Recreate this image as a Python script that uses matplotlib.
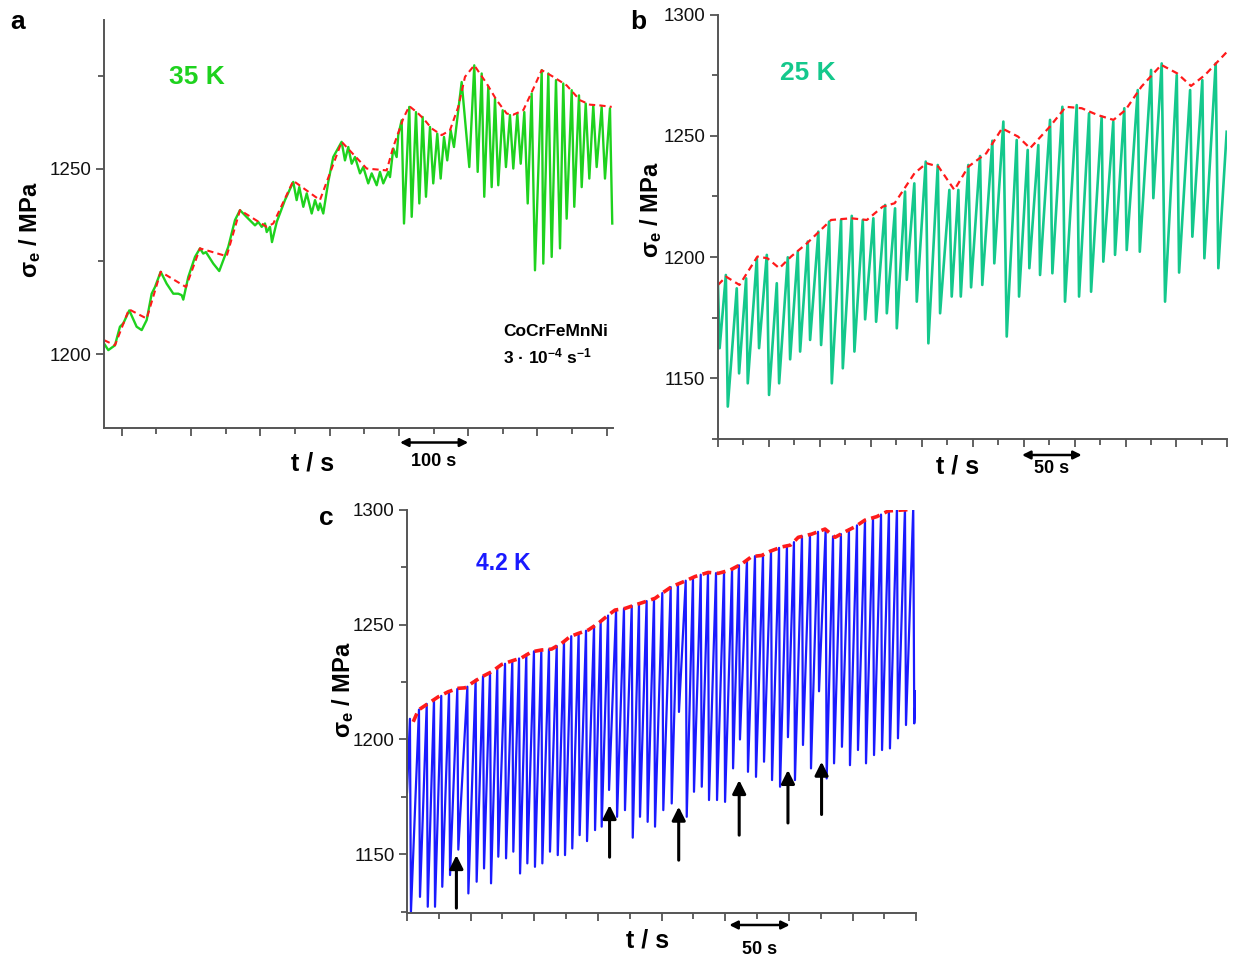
import numpy as np
import matplotlib
matplotlib.use("Agg")
import matplotlib.pyplot as plt
from matplotlib.ticker import MultipleLocator
from matplotlib import transforms

plt.rcParams['font.family'] = ['Liberation Sans', 'DejaVu Sans']
plt.rcParams['mathtext.fontset'] = 'custom'
plt.rcParams['mathtext.rm'] = 'Liberation Sans'
plt.rcParams['mathtext.bf'] = 'Liberation Sans:bold'
plt.rcParams['mathtext.it'] = 'Liberation Sans:italic'

# ---------------- data: panel a (35 K) ----------------
a_t = [-25.5, -19.3, -9.7, -2.5, 2.3, 11.0, 21.6, 28.9, 36.1, 43.3, 48.1, 56.3,
       64.9, 74.5, 81.7, 86.6, 88.9, 96.1, 105.8, 113.0, 117.7, 121.6, 132.2,
       140.8, 153.8, 163.5, 170.7, 182.7, 192.4, 197.2, 202.1, 206.8, 209.3,
       214.0, 216.9, 223.7, 235.6, 247.6, 252.5, 256.3, 262.1, 267.0, 274.2,
       279.0, 283.7, 286.2, 290.9, 298.1, 305.3, 317.4, 322.2, 327.0, 331.9,
       336.7, 343.9, 348.6, 355.8, 360.8, 368.0, 372.7, 377.5, 384.7, 387.2,
       391.9, 396.8, 399.1, 404.0, 407.4, 415.0, 418.5, 424.7, 429.5, 434.3,
       439.1, 444.9, 449.6, 455.4, 460.3, 465.1, 469.8, 474.7, 479.5, 485.7,
       490.6, 501.6, 508.8, 513.7, 519.5, 523.2, 529.0, 533.9, 538.7, 543.4,
       549.8, 554.5, 560.3, 565.1, 570.9, 575.8, 581.0, 585.9, 591.6, 596.4,
       606.1, 608.4, 615.6, 620.5, 626.7, 632.5, 637.2, 642.1, 649.4, 653.1,
       659.9, 663.8, 669.6, 674.8, 680.5, 685.4, 692.6, 697.4, 704.6, 707.9]
a_s = [1202.9, 1201.1, 1202.4, 1207.4, 1208.3, 1211.8, 1207.4, 1206.5, 1209.2,
       1216.3, 1218.1, 1222.2, 1219.0, 1216.3, 1216.3, 1215.9, 1214.7, 1220.8,
       1226.2, 1228.5, 1227.1, 1227.5, 1224.4, 1222.4, 1228.9, 1236.1, 1238.8,
       1236.5, 1234.7, 1235.6, 1234.3, 1235.2, 1232.9, 1234.3, 1230.2, 1235.6,
       1241.5, 1246.4, 1241.5, 1245.0, 1239.7, 1243.3, 1237.9, 1241.5, 1238.8,
       1240.6, 1237.9, 1246.4, 1253.1, 1257.2, 1252.2, 1255.8, 1251.3, 1253.1,
       1248.7, 1250.4, 1246.0, 1248.7, 1245.5, 1249.1, 1246.0, 1249.1, 1247.7,
       1255.4, 1253.1, 1259.0, 1263.0, 1235.2, 1266.6, 1237.0, 1265.2, 1240.6,
       1263.9, 1242.4, 1261.2, 1246.0, 1259.4, 1247.3, 1258.5, 1252.2, 1260.3,
       1255.8, 1265.7, 1273.3, 1250.4, 1277.8, 1249.1, 1275.6, 1242.4, 1272.0,
       1245.0, 1268.8, 1245.5, 1265.7, 1250.4, 1264.4, 1250.0, 1264.8, 1251.3,
       1265.2, 1240.6, 1270.2, 1222.6, 1276.5, 1224.4, 1275.6, 1226.2, 1273.8,
       1228.5, 1272.9, 1236.5, 1271.1, 1239.7, 1269.7, 1245.0, 1267.5, 1247.3,
       1267.0, 1250.4, 1266.6, 1247.3, 1266.2, 1235.2]
a_env_t = [-25.5, -9.7, 10.5, 36.1, 56.3, 92.8, 113.0, 151.5, 170.7, 209.2,
           218.8, 247.6, 286.1, 317.4, 353.5, 382.4, 391.9, 406.4, 415.0, 425.7,
           435.2, 447.3, 461.8, 473.7, 485.7, 495.4, 508.8, 526.7, 541.1, 555.6,
           565.1, 579.5, 594.0, 606.1, 622.8, 642.1, 661.3, 675.8, 690.2, 707.1]
a_env_s = [1203.8, 1202.4, 1212.1, 1209.6, 1222.2, 1218.1, 1228.5, 1226.4,
           1238.8, 1234.3, 1235.2, 1246.7, 1241.5, 1257.2, 1250.0, 1249.5,
           1255.8, 1263.5, 1266.8, 1265.2, 1263.5, 1260.8, 1259.0, 1260.3,
           1266.6, 1274.7, 1277.8, 1272.9, 1268.4, 1264.8, 1264.5, 1265.7,
           1271.5, 1276.5, 1274.7, 1272.4, 1268.4, 1267.2, 1267.0, 1266.6]

# ---------------- data: panel b (25 K) ----------------
b_t = [0.0, 1.6, 7.7, 9.6, 18.4, 20.7, 27.6, 29.2, 38.1, 40.3, 47.9, 50.1, 57.7,
       60.0, 68.5, 70.8, 78.3, 80.6, 88.1, 90.4, 98.5, 101.2, 109.0, 111.7,
       120.8, 122.5, 131.3, 133.9, 142.1, 144.4, 152.5, 155.2, 164.0, 165.7,
       173.8, 175.5, 183.6, 185.3, 192.7, 195.1, 203.9, 206.5, 215.7, 218.0,
       227.1, 229.4, 235.9, 238.3, 245.7, 248.4, 257.2, 259.4, 269.3, 271.2,
       280.1, 283.4, 293.2, 295.5, 304.0, 305.6, 314.4, 316.1, 325.9, 328.2,
       338.0, 340.6, 352.1, 354.4, 364.2, 366.2, 376.6, 378.2, 388.0, 389.7,
       398.8, 401.2, 412.0, 414.0, 425.1, 427.3, 435.5, 438.8, 450.3, 452.6,
       463.4, 465.6, 475.4, 477.4, 488.5, 491.1, 499.3]
b_s = [1188.0, 1162.4, 1192.6, 1138.3, 1187.1, 1152.0, 1191.2, 1147.9, 1199.5,
       1162.4, 1200.9, 1143.1, 1189.2, 1147.9, 1199.9, 1157.8, 1202.2, 1161.0,
       1206.4, 1165.8, 1210.5, 1163.7, 1214.6, 1147.9, 1215.3, 1154.1, 1217.0,
       1161.0, 1215.3, 1174.3, 1216.0, 1173.3, 1221.5, 1176.8, 1220.1, 1170.6,
       1227.0, 1190.6, 1230.4, 1181.6, 1239.4, 1164.4, 1238.0, 1176.8, 1227.7,
       1183.7, 1227.7, 1183.7, 1238.0, 1187.5, 1241.7, 1188.5, 1248.0, 1197.4,
       1255.9, 1167.2, 1248.3, 1183.7, 1244.2, 1195.4, 1246.2, 1192.6, 1256.6,
       1193.3, 1262.0, 1181.6, 1262.7, 1183.7, 1259.3, 1185.7, 1257.9, 1198.1,
       1255.9, 1200.9, 1261.4, 1202.9, 1268.9, 1202.2, 1277.2, 1224.3, 1279.9,
       1181.6, 1275.1, 1193.6, 1268.9, 1208.4, 1273.0, 1199.5, 1279.9, 1195.4,
       1251.7]
b_env_t = [0.0, 7.9, 21.1, 38.7, 48.5, 60.2, 71.7, 87.4, 111.0, 130.6, 146.1,
           161.7, 173.4, 192.9, 204.7, 216.4, 232.0, 245.7, 263.3, 278.8, 294.5,
           306.3, 325.7, 341.4, 357.0, 372.6, 388.2, 400.0, 415.6, 435.1, 450.7,
           464.3, 478.0, 499.6]
b_env_s = [1188.5, 1191.9, 1188.5, 1200.2, 1199.5, 1195.4, 1200.2, 1205.7,
           1215.3, 1216.0, 1215.3, 1220.8, 1222.2, 1234.6, 1238.7, 1237.3,
           1227.7, 1237.3, 1242.8, 1253.1, 1249.7, 1244.9, 1253.8, 1262.0,
           1261.4, 1258.6, 1256.6, 1260.7, 1270.3, 1279.3, 1275.8, 1270.6,
           1275.1, 1284.7]

# ---------------- data: panel c (4.2 K) ----------------
c_start = (0.0, 1177.0)
c_end = (399.7, 1221.0)
c_valley_t = [3.1, 10.2, 16.3, 22.0, 27.7, 33.8, 40.3, 48.2, 54.7, 60.5,
              66.0, 71.7, 77.8, 83.5, 88.8, 94.5, 100.5, 106.3, 112.3, 118.4,
              124.1, 129.8, 135.6, 141.4, 147.7, 152.9, 158.7, 165.0, 171.2, 177.3,
              183.0, 189.0, 194.8, 201.3, 207.9, 213.6, 219.7, 225.4, 231.5, 237.2,
              243.5, 249.8, 256.1, 261.5, 267.8, 274.1, 280.4, 286.7, 293.0, 299.2,
              304.7, 311.0, 317.3, 323.6, 329.6, 335.4, 341.6, 347.9, 354.2, 360.5,
              366.8, 373.1, 379.3, 385.6, 391.9, 398.4]
c_peak_s = [1209.0, 1213.0, 1215.5, 1217.5, 1219.0, 1220.8, 1222.0, 1223.0, 1226.0, 1227.5,
            1229.2, 1231.2, 1233.0, 1234.2, 1235.3, 1237.0, 1238.4, 1239.0, 1239.3, 1240.7,
            1242.7, 1245.0, 1246.3, 1247.4, 1249.4, 1251.5, 1254.0, 1256.5, 1257.0, 1258.2,
            1259.2, 1260.3, 1261.3, 1263.8, 1266.4, 1267.7, 1269.2, 1270.6, 1271.8, 1272.8,
            1272.5, 1273.0, 1274.3, 1275.9, 1278.2, 1279.9, 1280.5, 1282.2, 1283.5, 1284.4,
            1286.0, 1288.5, 1289.3, 1290.5, 1291.5, 1288.5, 1289.5, 1291.5, 1293.3, 1295.6,
            1296.6, 1298.0, 1299.7, 1301.0, 1301.0, 1301.0]
c_valley_s = [1124.9, 1131.4, 1127.1, 1127.1, 1135.8, 1140.9, 1152.0, 1132.9, 1138.0, 1143.8,
              1137.3, 1148.9, 1148.2, 1151.1, 1141.6, 1146.0, 1144.5, 1146.0, 1151.1, 1149.6,
              1149.6, 1152.5, 1158.3, 1155.7, 1160.5, 1162.0, 1178.0, 1166.3, 1169.2, 1157.2,
              1166.3, 1164.1, 1162.0, 1169.2, 1172.1, 1212.0, 1166.3, 1177.2, 1179.4, 1173.6,
              1173.6, 1172.8, 1187.4, 1200.0, 1185.9, 1183.7, 1190.3, 1182.3, 1179.4, 1201.0,
              1182.3, 1197.6, 1187.4, 1221.0, 1183.0, 1189.6, 1196.8, 1188.8, 1195.4, 1189.6,
              1193.2, 1195.4, 1196.1, 1200.5, 1206.3, 1207.0]
c_env_t = [4.9, 8.9, 16.7, 24.6, 32.4, 40.3, 45.6, 50.8, 58.7, 66.5, 74.4, 82.2,
           90.1, 97.9, 105.8, 113.6, 121.5, 128.0, 134.5, 142.4, 150.2, 158.1,
           163.4, 171.2, 179.1, 186.9, 194.8, 201.3, 207.9, 218.3, 226.2, 236.6,
           244.5, 253.7, 262.9, 270.7, 278.6, 285.1, 294.3, 301.2, 307.3, 317.9,
           328.3, 336.2, 344.0, 351.9, 359.7, 368.9, 378.0, 395.1]
c_env_s = [1207.7, 1212.8, 1215.7, 1218.6, 1220.8, 1222.3, 1222.5, 1224.5, 1227.3,
           1229.5, 1232.7, 1234.2, 1235.6, 1238.2, 1239.0, 1239.4, 1241.9, 1244.8,
           1246.2, 1247.7, 1250.6, 1254.2, 1256.4, 1257.1, 1258.6, 1260.0, 1261.5,
           1264.1, 1266.6, 1269.0, 1271.0, 1272.8, 1272.4, 1273.8, 1276.5, 1279.7,
           1280.2, 1282.0, 1283.9, 1284.7, 1288.1, 1289.5, 1291.7, 1288.1, 1290.5,
           1292.7, 1295.6, 1297.1, 1299.6, 1300.2]
# marked serrations (arrow tip and tail stress)
c_arrow_t = [38.8, 159.1, 213.4, 260.9, 299.2, 325.6]
c_arrow_tip = [1149.6, 1171.4, 1170.7, 1182.3, 1186.7, 1190.3]
c_arrow_tail = [1126.5, 1148.7, 1147.4, 1158.3, 1163.6, 1167.3]

# ---------------- styling ----------------
GREEN_A = '#1ed21e'
GREEN_B = '#14c88c'
BLUE_C = '#1a1aff'
RED = '#ff1a1a'
AXIS = '#555555'
DROP_TIME = 0.8  # duration of a stress drop in panel c

W, H = 1244, 966
fig = plt.figure(figsize=(W / 100, H / 100), dpi=100)
fig.patch.set_facecolor('white')


def px_rect(l, t, r, b):
    return [l / W, 1 - b / H, (r - l) / W, (b - t) / H]


def style_axes(ax, xlim, ylim, xmaj, xmin):
    ax.set_xlim(*xlim)
    ax.set_ylim(*ylim)
    for side in ('top', 'right'):
        ax.spines[side].set_visible(False)
    for side in ('left', 'bottom'):
        ax.spines[side].set_color(AXIS)
        ax.spines[side].set_linewidth(1.4)
    ax.xaxis.set_major_locator(MultipleLocator(xmaj))
    ax.xaxis.set_minor_locator(MultipleLocator(xmin))
    ax.yaxis.set_major_locator(MultipleLocator(50))
    ax.yaxis.set_minor_locator(MultipleLocator(25))
    ax.tick_params(which='both', direction='out', color=AXIS, width=1.3)
    ax.tick_params(which='major', length=6)
    ax.tick_params(which='minor', length=4)
    ax.tick_params(axis='x', labelbottom=False)
    ax.tick_params(axis='y', labelsize=13.5, pad=3, labelcolor='#111111')
    ax.set_facecolor('none')


def scale_arrow(ax, t0, t1, y_off_px, label, label_off_px):
    trans = transforms.blended_transform_factory(ax.transData, ax.transAxes)
    h = ax.get_position().height * H
    ax.annotate('', xy=(t0, -y_off_px / h), xytext=(t1, -y_off_px / h),
                xycoords=trans, textcoords=trans,
                arrowprops=dict(arrowstyle='<|-|>', color='black', lw=1.8,
                                mutation_scale=12, shrinkA=0, shrinkB=0),
                annotation_clip=False)
    ax.text((t0 + t1) / 2, -label_off_px / h, label, transform=trans,
            ha='center', va='center', fontsize=13, fontweight='bold')


def fig_text(x, y, s, **kw):
    fig.text(x / W, 1 - y / H, s, **kw)


# ---- panel a ----
ax_a = fig.add_axes(px_rect(104, 20, 613.5, 428.5))
style_axes(ax_a, (-25.5, 709.7), (1180, 1290), 100, 50)
ax_a.plot(a_t, a_s, color=GREEN_A, lw=1.7, solid_joinstyle='round')
ax_a.plot(a_env_t, a_env_s, color=RED, lw=1.5, dashes=(3, 2))
scale_arrow(ax_a, 401.6, 500.1, 14, '100 s', 33)

# ---- panel b ----
ax_b = fig.add_axes(px_rect(718, 14.7, 1227.4, 439.3))
style_axes(ax_b, (0, 500), (1124.8, 1300), 50, 25)
ax_b.plot(b_t, b_s, color=GREEN_B, lw=1.9, solid_joinstyle='round')
ax_b.plot(b_env_t, b_env_s, color=RED, lw=1.6, dashes=(3, 2))
scale_arrow(ax_b, 298.4, 357.0, 15.7, '50 s', 29)

# ---- panel c ----
ax_c = fig.add_axes(px_rect(407, 510, 916.3, 912.7))
style_axes(ax_c, (0, 400), (1124.5, 1300), 50, 25)
c_t = [c_start[0]]
c_s = [c_start[1]]
for vt, ps, vs in zip(c_valley_t, c_peak_s, c_valley_s):
    c_t += [vt - DROP_TIME, vt]
    c_s += [ps, vs]
c_t.append(c_end[0])
c_s.append(c_end[1])
ax_c.plot(c_t, c_s, color=BLUE_C, lw=1.6)
ax_c.plot(c_env_t, c_env_s, color=RED, lw=2.6, dashes=(2.5, 1.5))
for t, tip, tail in zip(c_arrow_t, c_arrow_tip, c_arrow_tail):
    ax_c.annotate('', xy=(t, tip), xytext=(t, tail),
                  arrowprops=dict(arrowstyle='-|>', color='black', lw=2.2,
                                  mutation_scale=20, shrinkA=0, shrinkB=0))
scale_arrow(ax_c, 253.1, 300.6, 12.3, '50 s', 37)

# ---- text ----
fig_text(18, 22, 'a', fontsize=19, fontweight='bold', ha='center', va='center')
fig_text(638, 22, 'b', fontsize=19, fontweight='bold', ha='center', va='center')
fig_text(326, 518, 'c', fontsize=19, fontweight='bold', ha='center', va='center')

fig_text(197, 77, '35 K', fontsize=19, fontweight='bold', color=GREEN_A,
         ha='center', va='center')
fig_text(808, 73, '25 K', fontsize=19, fontweight='bold', color=GREEN_B,
         ha='center', va='center')
fig_text(503, 563, '4.2 K', fontsize=16.5, fontweight='bold', color=BLUE_C,
         ha='center', va='center')

fig_text(503, 332, 'CoCrFeMnNi', fontsize=12.5, fontweight='bold',
         ha='left', va='center')
fig_text(503, 356, r'3 · 10$^{\mathbf{-4}}$ s$^{\mathbf{-1}}$', fontsize=12.5,
         fontweight='bold', ha='left', va='center')

ylab = r'σ$_{\mathbf{e}}$ / MPa'
fig_text(30, 230, ylab, fontsize=17, fontweight='bold', rotation=90,
         ha='center', va='center')
fig_text(651, 210, ylab, fontsize=17, fontweight='bold', rotation=90,
         ha='center', va='center')
fig_text(343, 690, ylab, fontsize=17, fontweight='bold', rotation=90,
         ha='center', va='center')

fig_text(313, 463, 't / s', fontsize=18, fontweight='bold', ha='center', va='center')
fig_text(958, 467, 't / s', fontsize=18, fontweight='bold', ha='center', va='center')
fig_text(648, 940, 't / s', fontsize=18, fontweight='bold', ha='center', va='center')

fig.savefig('out.png', dpi=100, facecolor='white')
